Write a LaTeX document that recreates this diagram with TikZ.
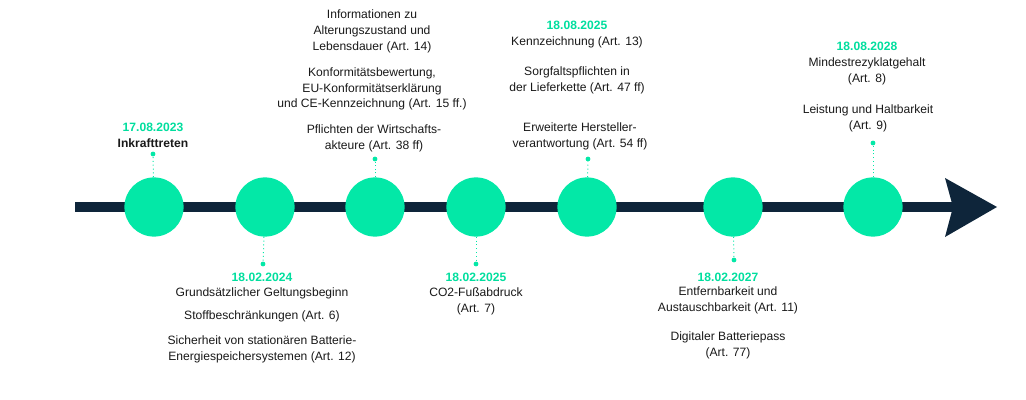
\documentclass[tikz,border=0pt]{standalone}
\usepackage{fontspec}
\setmainfont{Liberation Sans}
\usetikzlibrary{positioning}
\definecolor{mint}{HTML}{03E8A7}
\definecolor{minttext}{HTML}{00DE9E}
\definecolor{navy}{HTML}{0E253A}
\tikzstyle{every node}=[inner sep=0pt]
\tikzset{
  milestone/.style={circle, fill=mint, minimum size=1.48cm, inner sep=0pt},
  pin/.style={circle, fill=mint, minimum size=0.12cm, inner sep=0pt},
  stem/.style={mint, line width=0.7pt, dotted},
  datum/.style={font=\fontsize{8.6}{11.2}\selectfont\bfseries, text=minttext},
  txt/.style={font=\fontsize{8.6}{11.2}\selectfont, align=center, text=black!90},
  timeline/.style={navy, line width=0.25cm},
}

\begin{document}
\begin{tikzpicture}[x=0.025cm, y=-0.025cm]
    \useasboundingbox (0,0) rectangle (1026,400);

    % axis with arrow head
    \coordinate (start) at (75,207);
    \coordinate (notch) at (953,207);
    \coordinate (tip) at (997,207);
    \coordinate (barbup) at (945,178);
    \coordinate (barbdown) at (945,237);
    \draw[timeline] (start) -- (notch);
    \fill[navy] (barbup) -- (tip) -- (barbdown) -- (notch) -- cycle;

    % milestones
    \node[milestone] (m1) at (154,207){};
    \node[milestone] (m2) at (265,207){};
    \node[milestone] (m3) at (375,207){};
    \node[milestone] (m4) at (476,207){};
    \node[milestone] (m5) at (587,207){};
    \node[milestone] (m6) at (733,207){};
    \node[milestone] (m7) at (873,207){};

    \node[pin] (p1) at (153,154){};
    \node[pin] (p2) at (263,264){};
    \node[pin] (p3) at (375,159){};
    \node[pin] (p4) at (476,264){};
    \node[pin] (p5) at (588,159){};
    \node[pin] (p6) at (734,260){};
    \node[pin] (p7) at (873,143){};

    \draw[stem] (m1) -- (p1);
    \draw[stem] (m2) -- (p2);
    \draw[stem] (m3) -- (p3);
    \draw[stem] (m4) -- (p4);
    \draw[stem] (m5) -- (p5);
    \draw[stem] (m6) -- (p6);
    \draw[stem] (m7) -- (p7);

    % 2023
    \node[datum] (d1) at (153,127) {17.08.2023};
    \node[txt, font=\fontsize{8.6}{11.2}\selectfont\bfseries] (t1) at (153,143) {Inkrafttreten};

    % 2024
    \node[datum] (d2) at (262,277) {18.02.2024};
    \node[txt] (t2a) at (262,293) {Grundsätzlicher Geltungsbeginn};
    \node[txt] (t2b) at (262,316) {Stoffbeschränkungen (Art. 6)};
    \node[txt] (t2c) at (262,349) {Sicherheit von stationären Batterie-\\Energiespeichersystemen (Art. 12)};

    % without date
    \node[txt] (t3a) at (372,31.5) {Informationen zu\\Alterungszustand und\\Lebensdauer (Art. 14)};
    \node[txt] (t3b) at (372,89) {Konformitätsbewertung,\\EU-Konformitätserklärung\\und CE-Kennzeichnung (Art. 15 ff.)};
    \node[txt] (t3c) at (374,138) {Pflichten der Wirtschafts-\\akteure (Art. 38 ff)};

    % 2025
    \node[datum] (d4) at (476,277) {18.02.2025};
    \node[txt] (t4) at (476,301) {CO2-Fußabdruck\\(Art. 7)};

    \node[datum] (d5) at (577,25) {18.08.2025};
    \node[txt] (t5a) at (577,42) {Kennzeichnung (Art. 13)};
    \node[txt] (t5b) at (577,80) {Sorgfaltspflichten in\\der Lieferkette (Art. 47 ff)};
    \node[txt] (t5c) at (580,136) {Erweiterte Hersteller-\\verantwortung (Art. 54 ff)};

    % 2027
    \node[datum] (d6) at (728,277) {18.02.2027};
    \node[txt] (t6a) at (728,300.5) {Entfernbarkeit und\\Austauschbarkeit (Art. 11)};
    \node[txt] (t6b) at (728,345) {Digitaler Batteriepass\\(Art. 77)};

    % 2028
    \node[datum] (d7) at (867,46) {18.08.2028};
    \node[txt] (t7a) at (867,71.5) {Mindestrezyklatgehalt\\(Art. 8)};
    \node[txt] (t7b) at (868,118.5) {Leistung und Haltbarkeit\\(Art. 9)};

  \end{tikzpicture}
\end{document}
